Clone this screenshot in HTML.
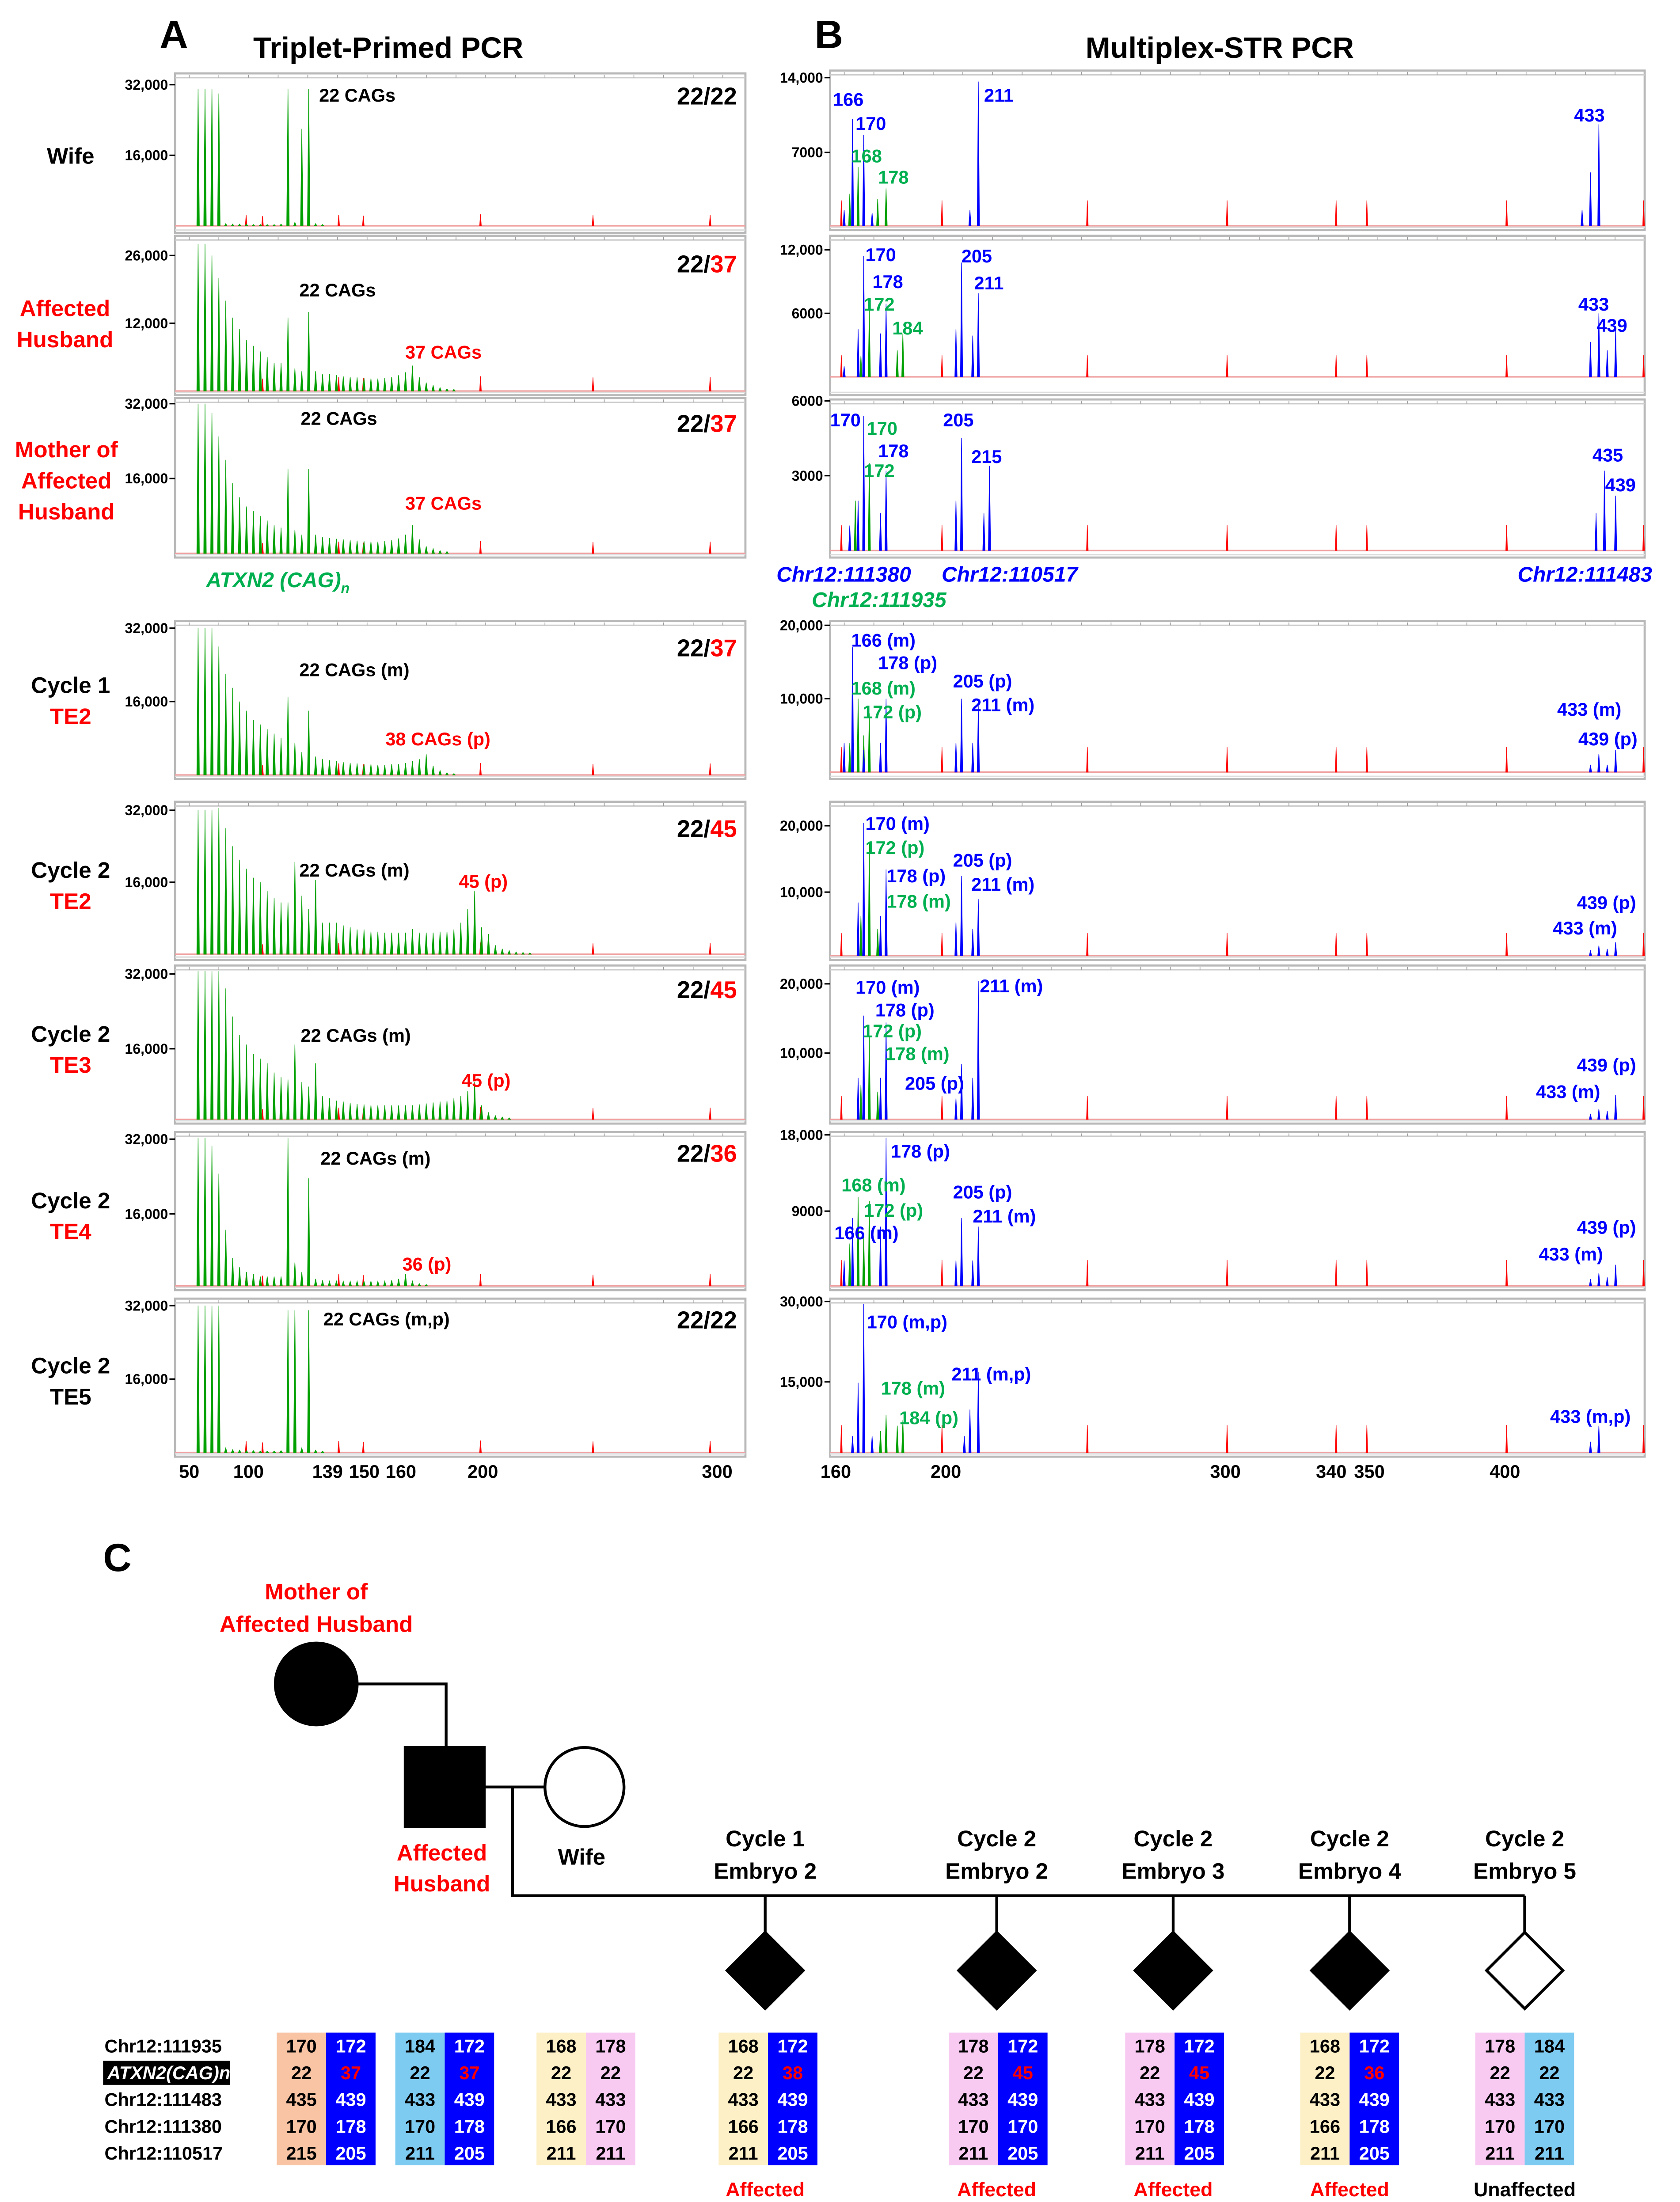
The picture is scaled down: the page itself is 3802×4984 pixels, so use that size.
<!DOCTYPE html>
<html><head><meta charset="utf-8">
<style>
html,body{margin:0;padding:0;background:#fff;}
svg{display:block;font-family:"Liberation Sans",sans-serif;font-weight:bold;}
</style></head>
<body>
<svg id="fig" xmlns="http://www.w3.org/2000/svg" width="3802" height="4984" viewBox="0 0 1190 1560">
<rect x="0" y="0" width="1190" height="1560" fill="#fff"/>
<text x="113" y="34" font-size="28">A</text>
<text x="275" y="41" font-size="21" text-anchor="middle">Triplet-Primed PCR</text>
<text x="577" y="34" font-size="28">B</text>
<text x="864" y="41" font-size="21" text-anchor="middle">Multiplex-STR PCR</text>
<text x="73" y="1113" font-size="28">C</text>

<g font-size="16" text-anchor="middle">
<text x="50" y="116">Wife</text>
<text x="46" y="224" fill="#f00">Affected</text><text x="46" y="246" fill="#f00">Husband</text>
<text x="47" y="324" fill="#f00">Mother of</text><text x="47" y="346" fill="#f00">Affected</text><text x="47" y="368" fill="#f00">Husband</text>
<text x="50" y="491">Cycle 1</text><text x="50" y="513" fill="#f00">TE2</text>
<text x="50" y="622">Cycle 2</text><text x="50" y="644" fill="#f00">TE2</text>
<text x="50" y="738">Cycle 2</text><text x="50" y="760" fill="#f00">TE3</text>
<text x="50" y="856">Cycle 2</text><text x="50" y="878" fill="#f00">TE4</text>
<text x="50" y="973">Cycle 2</text><text x="50" y="995">TE5</text>
</g>

<g id="chartA"></g>
<g id="chartB"></g>

<g font-size="13">
<text x="226" y="72">22 CAGs</text>
<text x="212" y="210">22 CAGs</text><text x="287" y="254" fill="#f00">37 CAGs</text>
<text x="213" y="301">22 CAGs</text><text x="287" y="361" fill="#f00">37 CAGs</text>
<text x="212" y="479">22 CAGs (m)</text><text x="273" y="528" fill="#f00">38 CAGs (p)</text>
<text x="212" y="621">22 CAGs (m)</text><text x="325" y="629" fill="#f00">45 (p)</text>
<text x="213" y="738">22 CAGs (m)</text><text x="327" y="770" fill="#f00">45 (p)</text>
<text x="227" y="825">22 CAGs (m)</text><text x="285" y="900" fill="#f00">36 (p)</text>
<text x="229" y="939">22 CAGs (m,p)</text>
<text x="146" y="416" font-size="15" font-style="italic" fill="#00b050">ATXN2 (CAG)<tspan font-size="10" dy="4">n</tspan></text>
</g>
<g font-size="17" text-anchor="end">
<text x="522" y="74">22/22</text>
<text x="522" y="193">22/<tspan fill="#f00">37</tspan></text>
<text x="522" y="306">22/<tspan fill="#f00">37</tspan></text>
<text x="522" y="465">22/<tspan fill="#f00">37</tspan></text>
<text x="522" y="593">22/<tspan fill="#f00">45</tspan></text>
<text x="522" y="707">22/<tspan fill="#f00">45</tspan></text>
<text x="522" y="823">22/<tspan fill="#f00">36</tspan></text>
<text x="522" y="941">22/22</text>
</g>
<g font-size="13" text-anchor="middle">
<text x="134" y="1047">50</text><text x="176" y="1047">100</text><text x="232" y="1047">139</text><text x="258" y="1047">150</text><text x="284" y="1047">160</text><text x="342" y="1047">200</text><text x="508" y="1047">300</text>
</g>
<g font-size="13" text-anchor="middle">
<text x="592" y="1047">160</text><text x="670" y="1047">200</text><text x="868" y="1047">300</text><text x="943" y="1047">340</text><text x="970" y="1047">350</text><text x="1066" y="1047">400</text>
</g>
<g font-size="15" font-style="italic">
<text x="550" y="412" fill="#0000ff">Chr12:111380</text>
<text x="667" y="412" fill="#0000ff">Chr12:110517</text>
<text x="1075" y="412" fill="#0000ff">Chr12:111483</text>
<text x="575" y="430" fill="#00b050">Chr12:111935</text>
</g>
<g id="bLabels" font-size="13"></g>

<g stroke="#000" stroke-width="2" fill="none">
<circle cx="224" cy="1193" r="29" fill="#000"/>
<polyline points="253,1193 316,1193 316,1238" />
<rect x="287" y="1238" width="56" height="56" fill="#000"/>
<line x1="343" y1="1266" x2="386" y2="1266"/>
<circle cx="414" cy="1266" r="28" fill="#fff"/>
<polyline points="363,1266 363,1343 1080,1343"/>
<line x1="542" y1="1343" x2="542" y2="1369"/>
<line x1="706" y1="1343" x2="706" y2="1369"/>
<line x1="831" y1="1343" x2="831" y2="1369"/>
<line x1="956" y1="1343" x2="956" y2="1369"/>
<line x1="1080" y1="1343" x2="1080" y2="1369"/>
<polygon points="542,1369 569,1396 542,1423 515,1396" fill="#000"/>
<polygon points="706,1369 733,1396 706,1423 679,1396" fill="#000"/>
<polygon points="831,1369 858,1396 831,1423 804,1396" fill="#000"/>
<polygon points="956,1369 983,1396 956,1423 929,1396" fill="#000"/>
<polygon points="1080,1369 1107,1396 1080,1423 1053,1396" fill="#fff"/>
</g>
<g font-size="16" text-anchor="middle">
<text x="224" y="1133" fill="#f00">Mother of</text><text x="224" y="1156" fill="#f00">Affected Husband</text>
<text x="313" y="1318" fill="#f00">Affected</text><text x="313" y="1340" fill="#f00">Husband</text>
<text x="412" y="1321">Wife</text>
<text x="542" y="1308">Cycle 1</text><text x="542" y="1331">Embryo 2</text>
<text x="706" y="1308">Cycle 2</text><text x="706" y="1331">Embryo 2</text>
<text x="831" y="1308">Cycle 2</text><text x="831" y="1331">Embryo 3</text>
<text x="956" y="1308">Cycle 2</text><text x="956" y="1331">Embryo 4</text>
<text x="1080" y="1308">Cycle 2</text><text x="1080" y="1331">Embryo 5</text>
</g>
<g font-size="14" text-anchor="middle">
<text x="542" y="1556" fill="#f00">Affected</text>
<text x="706" y="1556" fill="#f00">Affected</text>
<text x="831" y="1556" fill="#f00">Affected</text>
<text x="956" y="1556" fill="#f00">Affected</text>
<text x="1080" y="1556">Unaffected</text>
</g>
<g font-size="13">
<text x="74" y="1454">Chr12:111935</text>
<rect x="73" y="1460" width="90" height="17" fill="#000"/>
<text x="76" y="1473" fill="#fff" font-style="italic">ATXN2(CAG)n</text>
<text x="74" y="1492">Chr12:111483</text>
<text x="74" y="1511">Chr12:111380</text>
<text x="74" y="1530">Chr12:110517</text>
</g>
<g id="tables" font-size="13" text-anchor="middle"></g>
</svg>

<script>
const aWife   = [31,31,31,30,0.5,0.4,0.4,0.4,0.3,0.3,0.3,0.3,0.4,31,0.8,22,31,0.5,0.3];
const aHusb   = [26,26,24,20,16,13,11,9,8,7,6,5,5,13,4,3.5,14,3.5,3,3,2.8,2.6,2.5,2.4,2.3,2.2,2.2,2.3,2.5,2.8,3.3,4.5,2.5,1.5,1,0.6,0.4,0.3];
const aMoth   = [32,32,30,25,20,15,12,10,9,8,7,6,5.5,18,5,4,18,4,3.5,3.3,3.1,3,2.8,2.7,2.6,2.5,2.5,2.6,2.8,3.2,4,6,3,1.5,1,0.6,0.4];
const aC1TE2  = [32,32,32,28,22,19,16,14,12,11,10,9,8,17,7,5,14,4,3.5,3.2,3,2.8,2.6,2.5,2.4,2.3,2.2,2.2,2.3,2.4,2.6,3,3.5,4.5,2,1,0.5,0.3];
const aC2TE2  = [32,32,32,32.5,28,24,21,19,17,16,14,12.5,11.5,11.5,20.5,13,10,16.5,7,7,7,6.4,6,5.5,5.5,5,5,4.8,4.8,4.8,4.8,5.6,4.8,4.8,4.8,5,5,5.5,7,10,14,6,4.5,2,1.2,0.8,0.5,0.4,0.3];
const aC2TE3  = [32,32,32,32,28,22,18,16,14,13,12,10,9,8.5,16,8,7,12,5,4.5,4,3.8,3.5,3.3,3.2,3,3,3,3,3,3,3,3.2,3.4,3.6,3.8,4,4.5,5,6,8,3,1.5,0.8,0.5,0.3];
const aC2TE4  = [32,32,30,24,12,6,4,3,2.5,2,2,2,2,32,5,3,23,1.5,1.2,1,1,1,1,1,1,1,1,1,1.2,1.5,2.5,1,0.5,0.3];
const aC2TE5  = [32,32,32,32,1,0.6,0.5,0.4,0.4,0.3,0.3,0.3,0.4,31,31,1,31,0.5,0.3];
const aStdBp  = [99,106,138.5,149,199,247,297];
const aStdH   = [2.5,2.2,2.5,2.3,2.6,2.4,2.5];
const aTicks  = [["32,000","16,000"],["26,000","12,000"],["32,000","16,000"],["32,000","16,000"],["32,000","16,000"],["32,000","16,000"],["32,000","16,000"],["32,000","16,000"]];
const aTickVals = [[32,16],[26,12],[32,16],[32,16],[32,16],[32,16],[32,16],[32,16]];

const bBlue = [
 [[163,1.5],[166,10],[170,8.5],[173,1.2],[208,1.5],[211,13.5],[427,1.5],[430,5],[433,9.5]],
 [[163,1],[168,4.5],[170,11.4],[176,4.1],[178,6.9],[203,4.5],[205,10.8],[209,3.9],[211,7.9],[430,3.3],[433,6],[436,2.5],[439,4.4]],
 [[165,1],[168,2],[170,5.4],[176,1.5],[178,3.2],[203,2],[205,4.5],[213,1.5],[215,3.4],[432,1.5],[435,3.2],[439,2.2]],
 [[163,4],[166,17],[170,3],[176,4],[178,10],[203,4],[205,10],[209,4],[211,9],[430,1],[433,2.5],[436,1],[439,3]],
 [[168,8],[170,20],[176,6],[178,13],[203,5],[205,12],[209,4],[211,8.5],[430,0.8],[433,1.5],[436,1],[439,2]],
 [[168,6],[170,15],[176,6],[178,14],[203,3],[205,8],[209,6],[211,20],[430,0.8],[433,1.5],[436,1.2],[439,3.5]],
 [[163,3],[166,8],[176,7],[178,18],[203,3],[205,8],[209,3],[211,7],[430,0.8],[433,1.5],[436,1],[439,2.5]],
 [[166,3],[168,13],[170,29],[173,3],[206,3],[208,8],[211,15],[430,2],[433,5]]
];
const bGreen = [
 [[165,3],[168,5.5],[175,2.5],[178,3.5]],
 [[169,2],[172,6.3],[182,2.5],[184,4.1]],
 [[167,2],[170,4.4],[172,3.5]],
 [[165,4],[168,10],[170,5],[172,8]],
 [[169,6],[172,17],[175,4],[178,8]],
 [[169,5],[172,12],[175,4],[178,10]],
 [[165,5],[168,10.5],[170,6],[172,10]],
 [[176,4],[178,7],[182,5],[184,6]]
];
const bStdBp = [162,198,250,300,339,350,400,449];
const bTickVals = [[14,7],[12,6],[6,3],[20,10],[20,10],[20,10],[18,9],[30,15]];
const bTickText = [["14,000","7000"],["12,000","6000"],["6000","3000"],["20,000","10,000"],["20,000","10,000"],["20,000","10,000"],["18,000","9000"],["30,000","15,000"]];

const aFrames = [[52,165,60,110],[167,280,181,229],[282,395,286,339],[440,552,445,497],[568,680,574,625],[684,796,690,743],[802,914,807,860],[920,1032,925,977]];
const bFrames = [[50,163,55,108],[167,280,177,222],[283,395,284,337],[440,552,443,495],[568,680,585,632],[684,796,697,746],[802,914,804,858],[920,1032,922,979]];
const aSeries = [aWife,aHusb,aMoth,aC1TE2,aC2TE2,aC2TE3,aC2TE4,aC2TE5];

const NS="http://www.w3.org/2000/svg";
function mk(tag,attrs,parent){const e=document.createElementNS(NS,tag);for(const k in attrs)e.setAttribute(k,attrs[k]);parent.appendChild(e);return e;}
function xA(bp){return 176+(bp-100)*1.66;}
function xB(bp){return 592+(bp-160)*1.98;}

function frame(g,x0,x1,f,ticks,vals){
  const [y0,y1,tp,mp]=f;
  const base=mp+(mp-tp);
  const fr=mk('rect',{x:x0,y:y0,width:x1-x0,height:y1-y0,fill:'#fff',stroke:'#b8b8b8','stroke-width':1.5},g);
  
  
  mk('line',{x1:x0,y1:y0+3,x2:x1,y2:y0+3,stroke:'#ccc','stroke-width':1},g);
  for(let x=x0+10;x<x1;x+=21){mk('line',{x1:x,y1:y0+1,x2:x,y2:y0+3,stroke:'#999','stroke-width':0.5},g);}
  const bl=Math.min(base,y1-3);
  mk('line',{x1:x0,y1:bl,x2:x1,y2:bl,stroke:'#f0a0a0','stroke-width':1},g);
  mk('line',{x1:x0,y1:y1-2,x2:x1,y2:y1-2,stroke:'#ddd','stroke-width':1},g);
  [tp,mp].forEach((yy,i)=>{
    mk('line',{x1:x0-4,y1:yy,x2:x0,y2:yy,stroke:'#000','stroke-width':1},g);
    const t=mk('text',{x:x0-5,y:yy+3.5,'font-size':10,'text-anchor':'end'},g);
    t.textContent=ticks[i];
    
    
  });
  return {base:bl,scale:(mp-tp)/vals[1],top:y0+4};
}
function peak(g,x,h,ctx,color,w,name){
  const yt=Math.max(ctx.base-h*ctx.scale,ctx.top);
  const p=mk('path',{d:`M${x-w},${ctx.base}L${x},${yt}L${x+w},${ctx.base}Z`,fill:color,stroke:color,'stroke-width':0.4},g);
  
  
}

const gA=document.getElementById('chartA');
aFrames.forEach((f,r)=>{
  const g=mk('g',{},gA);
  
  
  const ctx=frame(g,124,528,f,aTicks[r],aTickVals[r]);
  aStdBp.forEach((bp,i)=>peak(g,xA(bp),aStdH[i],ctx,'#f00',0.6,'size-standard-peak'));
  aSeries[r].forEach((h,i)=>peak(g,xA(78.5+2.95*i),h,ctx,'#00a000',0.9,'cag-peak'));
});

const gB=document.getElementById('chartB');
bFrames.forEach((f,r)=>{
  const g=mk('g',{},gB);
  
  
  const ctx=frame(g,588,1165,f,bTickText[r],bTickVals[r]);
  bStdBp.forEach(bp=>peak(g,xB(bp),bTickVals[r][0]*0.17,ctx,'#f00',0.6,'size-standard-peak'));
  bGreen[r].forEach(p=>peak(g,xB(p[0]),p[1],ctx,'#00a000',0.8,'green-allele-peak'));
  bBlue[r].forEach(p=>peak(g,xB(p[0]),p[1],ctx,'#0000ff',0.8,'blue-allele-peak'));
});

const bLab=[
["166","b",590,75],["170","b",606,92],["168","g",603,115],["178","g",622,130],["211","b",697,72],["433","b",1115,86],
["170","b",613,185],["178","b",618,204],["172","g",612,220],["184","g",632,237],["205","b",681,186],["211","b",690,205],["433","b",1118,220],["439","b",1131,235],
["170","b",588,302],["170","g",614,308],["178","b",622,324],["172","g",612,338],["205","b",668,302],["215","b",688,328],["435","b",1128,327],["439","b",1137,348],
["166 (m)","b",603,458],["178 (p)","b",622,474],["168 (m)","g",603,492],["172 (p)","g",611,509],["205 (p)","b",675,487],["211 (m)","b",688,504],["433 (m)","b",1103,507],["439 (p)","b",1118,528],
["170 (m)","b",613,588],["172 (p)","g",613,605],["178 (p)","b",628,625],["178 (m)","g",628,643],["205 (p)","b",675,614],["211 (m)","b",688,631],["439 (p)","b",1117,644],["433 (m)","b",1100,662],
["211 (m)","b",694,703],["170 (m)","b",606,704],["178 (p)","b",620,720],["172 (p)","g",611,735],["178 (m)","g",627,751],["205 (p)","b",641,772],["439 (p)","b",1117,759],["433 (m)","b",1088,778],
["178 (p)","b",631,820],["168 (m)","g",596,844],["205 (p)","b",675,849],["172 (p)","g",612,862],["211 (m)","b",689,866],["166 (m)","b",591,878],["439 (p)","b",1117,874],["433 (m)","b",1090,893],
["170 (m,p)","b",614,941],["211 (m,p)","b",674,978],["178 (m)","g",624,988],["184 (p)","g",637,1009],["433 (m,p)","b",1098,1008]
];
const gl=document.getElementById('bLabels');
bLab.forEach(l=>{
  const t=mk('text',{x:l[2],y:l[3],fill:l[1]==='b'?'#0000ff':'#00b050'},gl);
  t.textContent=l[0];
  
  
});

const cols=[
[196,'#f8c4a4',[170,22,435,170,215]],[231,'#0000ff',[172,37,439,178,205]],
[280,'#7ecbf2',[184,22,433,170,211]],[315,'#0000ff',[172,37,439,178,205]],
[380,'#fdf0c6',[168,22,433,166,211]],[415,'#f8caf2',[178,22,433,170,211]],
[509,'#fdf0c6',[168,22,433,166,211]],[544,'#0000ff',[172,38,439,178,205]],
[672,'#f8caf2',[178,22,433,170,211]],[707,'#0000ff',[172,45,439,170,205]],
[797,'#f8caf2',[178,22,433,170,211]],[832,'#0000ff',[172,45,439,178,205]],
[921,'#fdf0c6',[168,22,433,166,211]],[956,'#0000ff',[172,36,439,178,205]],
[1045,'#f8caf2',[178,22,433,170,211]],[1080,'#7ecbf2',[184,22,433,170,211]]
];
const gt=document.getElementById('tables');
cols.forEach(c=>{
  const r=mk('rect',{x:c[0],y:1440,width:35,height:94,fill:c[1]},gt);
  
  
  const dark=c[1]==='#0000ff';
  c[2].forEach((v,i)=>{
    let fill=dark?'#fff':'#000';
    if(dark&&i===1&&v!==22)fill='#f00';
    const t=mk('text',{x:c[0]+17.5,y:1454+i*19,fill:fill},gt);
    t.textContent=v;
    
    
  });
});
</script>
</body></html>
